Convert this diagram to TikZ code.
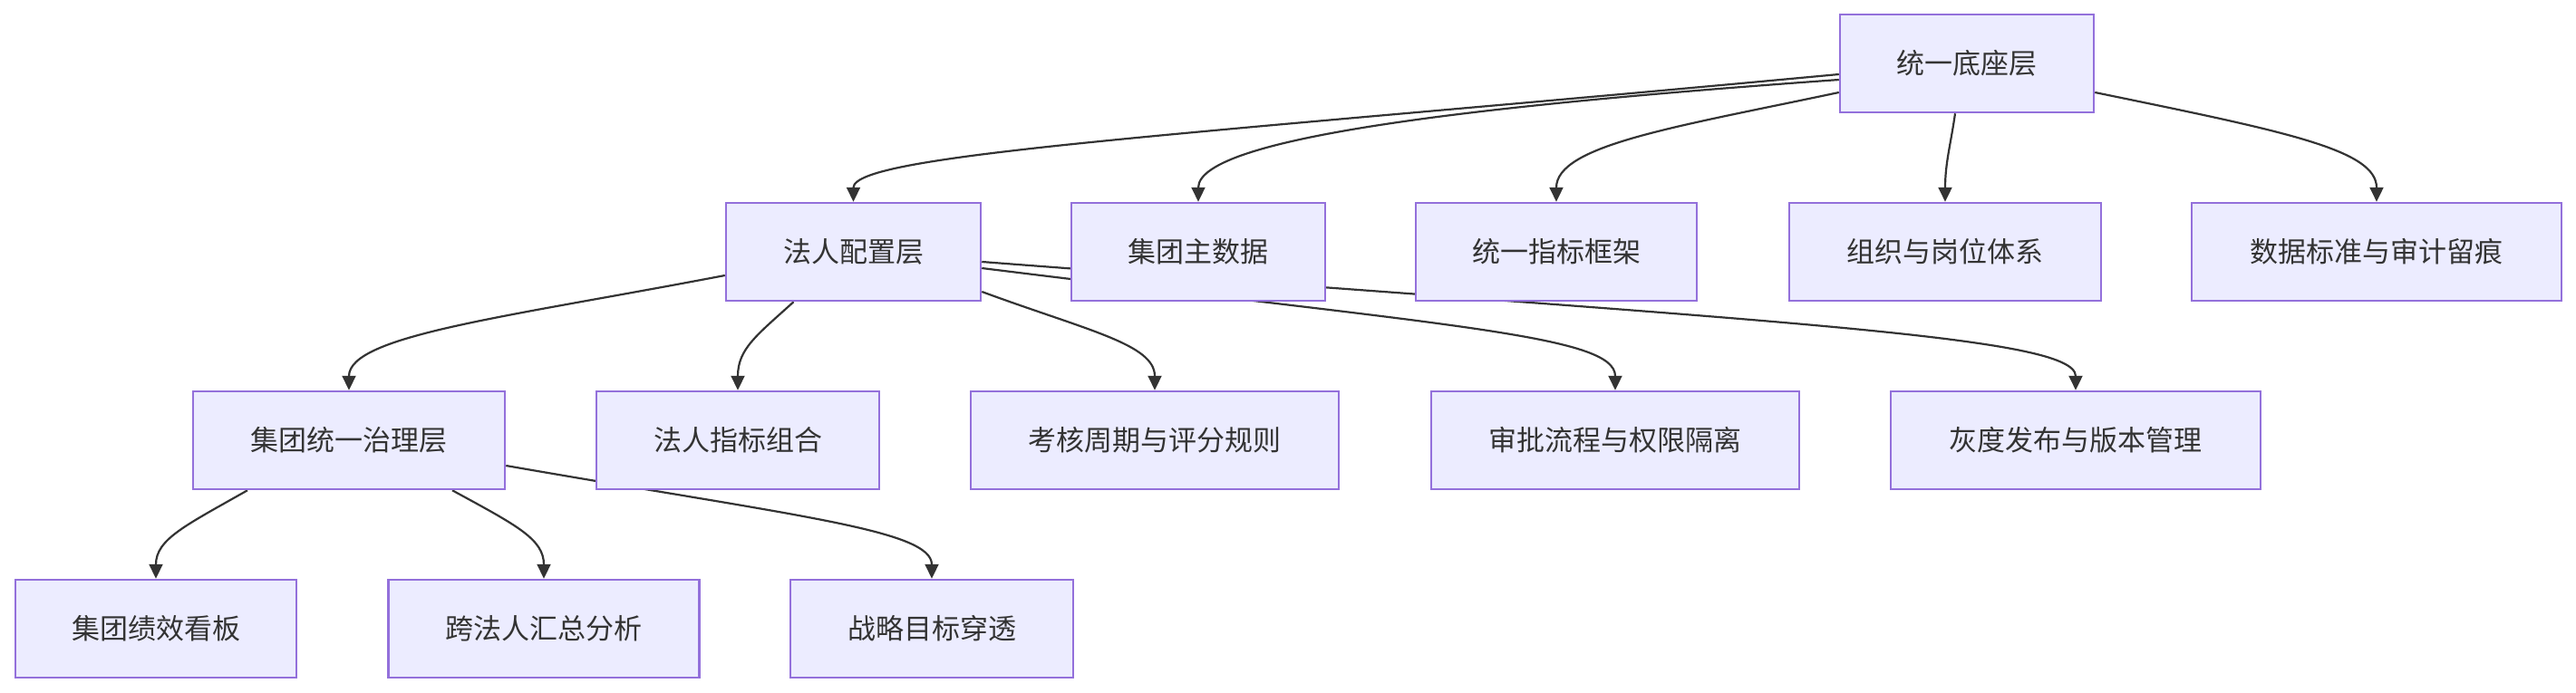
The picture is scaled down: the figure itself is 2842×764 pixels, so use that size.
\documentclass[tikz,border=0pt]{standalone}
\usepackage{fontspec}
\newfontfamily\cjk{Noto Sans CJK SC}
\usetikzlibrary{arrows.meta}
\pgfdeclarelayer{bg}
\pgfsetlayers{bg,main}
\definecolor{nodefill}{HTML}{ECECFF}
\definecolor{nodestroke}{HTML}{9370DB}
\definecolor{edgecol}{HTML}{333333}
\tikzset{
  box/.style={draw=nodestroke, fill=nodefill, line width=2.5pt, minimum height=108pt,
    inner sep=0pt, text=edgecol, font=\cjk\fontsize{31}{37}\selectfont},
  edge/.style={draw=edgecol, line width=2.2pt, -{Triangle[length=16pt,width=15pt]}}
}
\begin{document}
\begin{tikzpicture}[x=1pt,y=-1pt]
\useasboundingbox (0,0) rectangle (2842,764);
% row 1
\node[box, minimum width=280pt] (top) at (2170,70) {统一底座层};
% row 2
\node[box, minimum width=281pt] (lpc) at (941.5,278) {法人配置层};
\node[box, minimum width=280pt] (gmd) at (1322,278) {集团主数据};
\node[box, minimum width=310pt] (uif) at (1717,278) {统一指标框架};
\node[box, minimum width=344pt] (org) at (2146,278) {组织与岗位体系};
\node[box, minimum width=408pt] (dsa) at (2622,278) {数据标准与审计留痕};
% row 3
\node[box, minimum width=344pt] (ggl) at (385,486) {集团统一治理层};
\node[box, minimum width=312pt] (lic) at (814,486) {法人指标组合};
\node[box, minimum width=406pt] (kpc) at (1274,486) {考核周期与评分规则};
\node[box, minimum width=406pt] (apr) at (1782,486) {审批流程与权限隔离};
\node[box, minimum width=408pt] (gray) at (2290,486) {灰度发布与版本管理};
% row 4
\node[box, minimum width=310pt] (gpb) at (172,694) {集团绩效看板};
\node[box, minimum width=343pt] (cla) at (600,694) {跨法人汇总分析};
\node[box, minimum width=312pt] (sgp) at (1028,694) {战略目标穿透};
\begin{pgfonlayer}{bg}
\draw[edge] ([yshift=-12pt]top.west) .. controls (1300,150) and (941.5,170) .. (lpc.north);
\draw[edge] ([yshift=-18pt]top.west) .. controls (1650,115) and (1322,150) .. (gmd.north);
\draw[edge] ([yshift=-32pt]top.west) .. controls (1850,140) and (1717,160) .. (uif.north);
\draw[edge] ([xshift=-13pt]top.south) .. controls (2152,160) and (2146,180) .. (org.north);
\draw[edge] ([yshift=-32pt]top.east) .. controls (2520,145) and (2622,165) .. (dsa.north);
\draw[edge] ([yshift=-26pt]lpc.west) .. controls (560,350) and (385,370) .. (ggl.north);
\draw[edge] ([xshift=-66pt]lpc.south) .. controls (835,370) and (814,385) .. (lic.north);
\draw[edge] ([yshift=-44pt]lpc.east) .. controls (1200,365) and (1274,380) .. (kpc.north);
\draw[edge] ([yshift=-18pt]lpc.east) .. controls (1600,360) and (1782,370) .. (apr.north);
\draw[edge] ([yshift=-11pt]lpc.east) .. controls (1950,355) and (2290,370) .. (gray.north);
\draw[edge] ([xshift=-112pt]ggl.south) .. controls (205,580) and (172,595) .. (gpb.north);
\draw[edge] ([xshift=114pt]ggl.south) .. controls (570,580) and (600,595) .. (cla.north);
\draw[edge] ([yshift=-28pt]ggl.east) .. controls (880,570) and (1028,585) .. (sgp.north);
\end{pgfonlayer}
\end{tikzpicture}
\end{document}
